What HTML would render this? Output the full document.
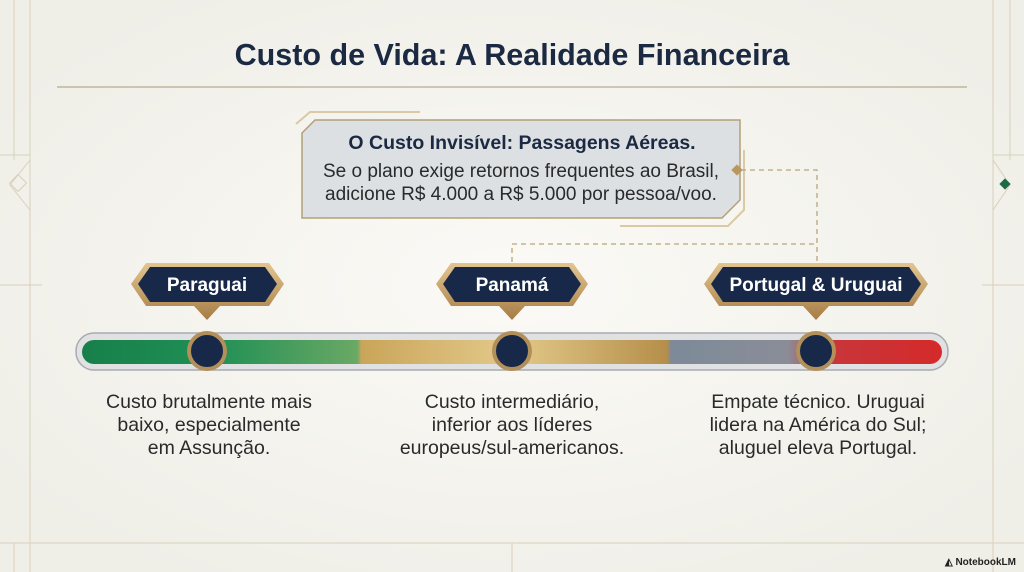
<!DOCTYPE html>
<html><head><meta charset="utf-8"><style>
html,body{margin:0;padding:0;background:#f3f2ec;}
svg{display:block;font-family:"Liberation Sans",sans-serif;}
</style></head><body>
<svg width="1024" height="572" viewBox="0 0 1024 572" xmlns="http://www.w3.org/2000/svg">
<defs>
<radialGradient id="bg" cx="0.5" cy="0.5" r="0.6"><stop offset="0" stop-color="#fbfaf6"/><stop offset="1" stop-color="#efeee7"/></radialGradient>
<linearGradient id="bar" x1="0" x2="1">
<stop offset="0" stop-color="#17804a"/><stop offset="0.15" stop-color="#1f8f55"/><stop offset="0.32" stop-color="#6aa865"/>
<stop offset="0.325" stop-color="#caa55a"/><stop offset="0.5" stop-color="#e3c98a"/><stop offset="0.68" stop-color="#b58f4a"/>
<stop offset="0.685" stop-color="#7d8a99"/><stop offset="0.82" stop-color="#8a8d98"/><stop offset="0.87" stop-color="#c8363a"/><stop offset="1" stop-color="#d42a2a"/>
</linearGradient>
<linearGradient id="gold" x1="0" y1="0" x2="0" y2="1"><stop offset="0" stop-color="#e3c590"/><stop offset="1" stop-color="#a67c45"/></linearGradient>
</defs>
<rect width="1024" height="572" fill="url(#bg)"/>
<g stroke="#d8d0bc" stroke-width="1" fill="none">
<line x1="30" y1="0" x2="30" y2="572"/><line x1="993" y1="0" x2="993" y2="572"/>
<line x1="14" y1="0" x2="14" y2="160"/><line x1="1010" y1="0" x2="1010" y2="160"/>
<line x1="0" y1="543" x2="1024" y2="543"/>
<line x1="0" y1="155" x2="30" y2="155"/><line x1="993" y1="155" x2="1024" y2="155"/>
<line x1="0" y1="285" x2="42" y2="285"/><line x1="982" y1="285" x2="1024" y2="285"/>
<line x1="512" y1="543" x2="512" y2="572"/><line x1="14" y1="543" x2="14" y2="572"/>
<path d="M30 160 L10 185 L30 210"/><path d="M993 160 L1010 185 L993 210"/>
<rect x="12" y="177" width="12" height="12" transform="rotate(45 18 183)"/>
</g>
<rect x="1001" y="180" width="8" height="8" fill="#1e6a48" transform="rotate(45 1005 184)"/>
<text x="512" y="65" text-anchor="middle" font-size="30.5" font-weight="bold" fill="#1b2a42">Custo de Vida: A Realidade Financeira</text>
<line x1="57" y1="87" x2="967" y2="87" stroke="#b8ab8e" stroke-width="1.3"/>
<path d="M296 124 L310 112 L420 112" stroke="#d9c9a4" stroke-width="2" fill="none"/>
<path d="M744 150 L744 210 L728 226 L620 226" stroke="#d9c9a4" stroke-width="2" fill="none"/>
<polygon points="315,120 740,120 740,200 722,218 302,218 302,133" fill="#dde0e3" stroke="#b39f78" stroke-width="1.5"/>
<text x="522" y="149" text-anchor="middle" font-size="19.5" font-weight="bold" fill="#1b2a42">O Custo Invisível: Passagens Aéreas.</text>
<text x="521" y="177" text-anchor="middle" font-size="19" fill="#2a2a2a">Se o plano exige retornos frequentes ao Brasil,</text>
<text x="521" y="200" text-anchor="middle" font-size="19" fill="#2a2a2a">adicione R$ 4.000 a R$ 5.000 por pessoa/voo.</text>
<g stroke="#b9a57a" stroke-width="1.3" stroke-dasharray="5,4" fill="none">
<path d="M741 170 L817 170 L817 262"/><path d="M512 262 L512 244 L817 244"/>
</g>
<rect x="733" y="166" width="8" height="8" fill="#b9975e" transform="rotate(45 737 170)"/>
<rect x="76" y="333" width="872" height="37" rx="18" fill="#dfe1e2" stroke="#a9abae" stroke-width="1.5"/>
<rect x="82" y="340" width="860" height="24" rx="12" fill="url(#bar)"/>
<g>
<polygon points="131,284 146,263 269,263 284,284 269,306 220,306 207,320 194,306 146,306" fill="url(#gold)"/>
<polygon points="138,284 150,267 265,267 277,284 265,302 150,302" fill="#172848"/>
<text x="207" y="291" text-anchor="middle" font-size="19" font-weight="bold" fill="#fff">Paraguai</text>
<polygon points="436,284 451,263 573,263 588,284 573,306 525,306 512,320 499,306 451,306" fill="url(#gold)"/>
<polygon points="443,284 455,267 569,267 581,284 569,302 455,302" fill="#172848"/>
<text x="512" y="291" text-anchor="middle" font-size="19" font-weight="bold" fill="#fff">Panamá</text>
<polygon points="704,284 719,263 913,263 928,284 913,306 829,306 816,320 803,306 719,306" fill="url(#gold)"/>
<polygon points="711,284 723,267 909,267 921,284 909,302 723,302" fill="#172848"/>
<text x="816" y="291" text-anchor="middle" font-size="19" font-weight="bold" fill="#fff">Portugal &amp; Uruguai</text>
</g>
<g stroke="#b38f5a" stroke-width="4" fill="#172848">
<circle cx="207" cy="351" r="18"/><circle cx="512" cy="351" r="18"/><circle cx="816" cy="351" r="18"/>
</g>
<g font-size="19.5" fill="#2a2a2a" text-anchor="middle">
<text x="209" y="408">Custo brutalmente mais</text><text x="209" y="431">baixo, especialmente</text><text x="209" y="454">em Assunção.</text>
<text x="512" y="408">Custo intermediário,</text><text x="512" y="431">inferior aos líderes</text><text x="512" y="454">europeus/sul-americanos.</text>
<text x="818" y="408">Empate técnico. Uruguai</text><text x="818" y="431">lidera na América do Sul;</text><text x="818" y="454">aluguel eleva Portugal.</text>
</g>
<text x="1016" y="565" text-anchor="end" font-size="10" font-weight="bold" fill="#222">◭ NotebookLM</text>
</svg>
</body></html>
